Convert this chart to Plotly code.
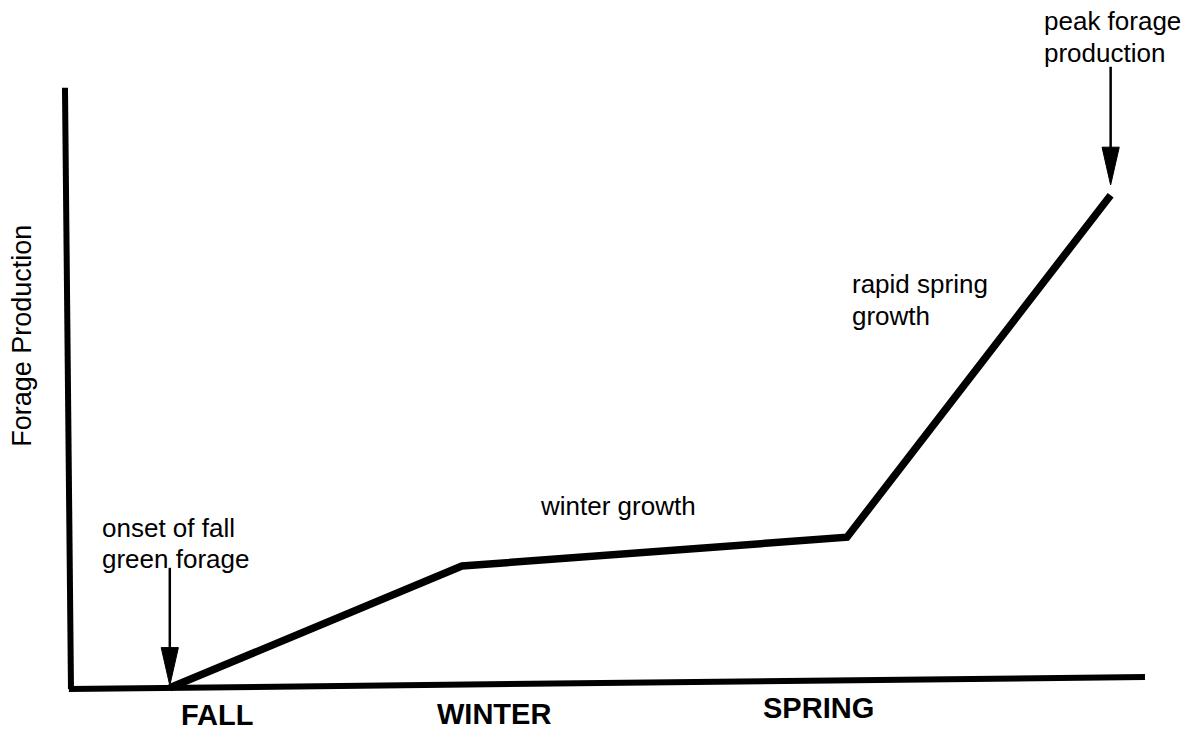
import plotly.graph_objects as go

# forage production curve (season position vs relative production)
season_x = [9.2, 36.4, 72.25, 96.8]
forage_y = [0.2, 20.5, 25.3, 82.3]

# hand-drawn axes
yaxis_x = [0.0, -0.56]
yaxis_y = [0.0, 100.2]
xaxis_x = [-0.2, 100.0]
xaxis_y = [0.0, 2.0]

# season labels under the x axis
season_labels = ["FALL", "WINTER", "SPRING"]
season_label_x = [13.6, 39.4, 69.6]
season_label_y = [-4.3, -4.1, -3.1]

# note text, one entry per line
note_lines = ["peak forage", "production", "rapid spring", "growth",
              "winter growth", "onset of fall", "green forage"]
note_x = [90.4, 90.4, 72.5, 72.5, 43.5, 2.7, 2.7]
note_y = [111.3, 106.0, 67.5, 62.2, 30.5, 26.8, 21.7]

# arrows: tail -> tip
arrow_x = [9.2, 96.8]
arrow_tail_y = [20.2, 103.7]
arrow_tip_y = [0.6, 84.0]

FONT = "Liberation Sans, Arial, Helvetica, sans-serif"
HEAD_H = 6.3   # arrowhead length in y units
HEAD_W = 0.8   # arrowhead half width in x units

fig = go.Figure()

fig.add_trace(go.Scatter(x=yaxis_x, y=yaxis_y, mode="lines",
                         line=dict(color="black", width=6)))
fig.add_trace(go.Scatter(x=xaxis_x, y=xaxis_y, mode="lines",
                         line=dict(color="black", width=6)))
fig.add_trace(go.Scatter(x=season_x, y=forage_y, mode="lines",
                         line=dict(color="black", width=7.5)))

shapes = []
for ax_, y0, y1 in zip(arrow_x, arrow_tail_y, arrow_tip_y):
    fig.add_trace(go.Scatter(x=[ax_, ax_], y=[y0, y1 + HEAD_H * 0.5], mode="lines",
                             line=dict(color="black", width=2.5)))
    shapes.append(dict(
        type="path", xref="x", yref="y",
        path=f"M {ax_ - HEAD_W},{y1 + HEAD_H} L {ax_ + HEAD_W},{y1 + HEAD_H} L {ax_},{y1} Z",
        fillcolor="black", line=dict(color="black", width=1)))

annotations = []
for t, x, y in zip(note_lines, note_x, note_y):
    annotations.append(dict(x=x, y=y, xref="x", yref="y", text=t, showarrow=False,
                            xanchor="left", yanchor="middle",
                            font=dict(family=FONT, size=26, color="black")))
for t, x, y in zip(season_labels, season_label_x, season_label_y):
    annotations.append(dict(x=x, y=y, xref="x", yref="y", text=f"<b>{t}</b>",
                            showarrow=False, xanchor="center", yanchor="middle",
                            font=dict(family=FONT, size=29, color="black")))
annotations.append(dict(x=-4.5, y=58.8, xref="x", yref="y", text="Forage Production",
                        showarrow=False, textangle=-90, xanchor="center", yanchor="middle",
                        font=dict(family=FONT, size=27, color="black")))

fig.update_layout(
    width=1184, height=731,
    margin=dict(l=0, r=0, t=0, b=0),
    showlegend=False,
    paper_bgcolor="white", plot_bgcolor="white",
    xaxis=dict(range=[-6.61, 103.63], visible=False, fixedrange=True),
    yaxis=dict(range=[-7.0, 114.83], visible=False, fixedrange=True),
    shapes=shapes,
    annotations=annotations,
)

# drop the default page margin so the figure sits at the window corner
fig.write_html("out.html", config={"displayModeBar": False},
               post_script="document.body.style.margin='0';")
